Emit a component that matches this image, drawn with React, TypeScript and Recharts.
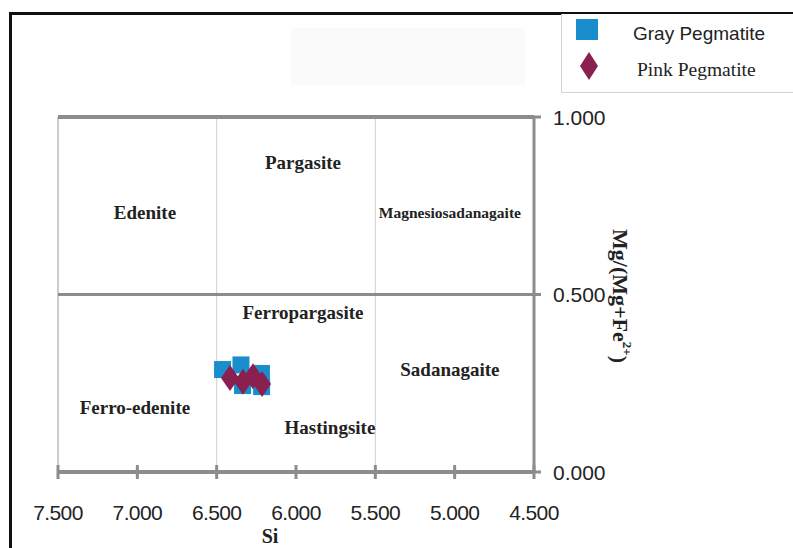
import { Label, Legend, ReferenceDot, ReferenceLine, Scatter, ScatterChart, XAxis, YAxis } from 'recharts';

const siTicks = [7.5, 7.0, 6.5, 6.0, 5.5, 5.0, 4.5];
const ratioTicks = [0, 0.5, 1.0];

const graySi = [6.466, 6.35, 6.221, 6.34, 6.22];
const grayRatio = [0.29, 0.303, 0.279, 0.245, 0.242];
const pinkSi = [6.416, 6.334, 6.271, 6.214];
const pinkRatio = [0.265, 0.254, 0.27, 0.248];

const regionNames = ['Pargasite', 'Edenite', 'Magnesiosadanagaite', 'Ferropargasite', 'Sadanagaite', 'Ferro-edenite', 'Hastingsite'];
const regionSi = [5.956, 6.952, 5.03, 5.956, 5.03, 7.015, 5.786];
const regionRatio = [0.873, 0.73, 0.73, 0.448, 0.29, 0.183, 0.124];

const gray = graySi.map((si, i) => ({ si, ratio: grayRatio[i] }));
const pink = pinkSi.map((si, i) => ({ si, ratio: pinkRatio[i] }));

const BLUE = '#1a8dcd';
const MAROON = '#8a2050';
const AXIS = '#8c8c8c';
const NUM_FONT = "'Liberation Sans', Arial, sans-serif";
const SERIF = "'Liberation Serif', 'DejaVu Serif', serif";

const Square = (p: any) => <rect x={p.cx - 8} y={p.cy - 8} width={17} height={17} fill={BLUE} />;
const Diamond = (p: any) => (
  <polygon points={`${p.cx},${p.cy - 13} ${p.cx + 9},${p.cy} ${p.cx},${p.cy + 13} ${p.cx - 9},${p.cy}`} fill={MAROON} />
);

const XTick = (p: any) => (
  <g>
    <line x1={p.x} x2={p.x} y1={p.y - 7} y2={p.y + 7} stroke={AXIS} strokeWidth={3} />
    <text x={p.x} y={p.y + 40} textAnchor="middle" dominantBaseline="central" fontSize={21} letterSpacing={-0.6} fontFamily={NUM_FONT} fill="#222">
      {p.payload.value.toFixed(3)}
    </text>
  </g>
);

const YTick = (p: any) => (
  <g>
    <line x1={p.x - 7} x2={p.x + 7} y1={p.y} y2={p.y} stroke={AXIS} strokeWidth={3} />
    <text x={p.x + 19} y={p.y} textAnchor="start" dominantBaseline="central" fontSize={21} fontFamily={NUM_FONT} fill="#222">
      {p.payload.value.toFixed(3)}
    </text>
  </g>
);

const LegendBox = () => (
  <div style={{ width: 240, height: 78, border: '1px solid #d4d4d4', borderTop: 'none', background: '#fff', position: 'relative' }}>
    <svg width={240} height={78} style={{ position: 'absolute', left: 0, top: 0 }}>
      <rect x={14} y={5} width={22} height={21} fill={BLUE} />
      <polygon points="27,38 36,52 27,66 18,52" fill={MAROON} />
      <text x={71} y={26} fontSize={19} fontFamily="'Liberation Sans', Arial, sans-serif" fill="#222">
        Gray Pegmatite
      </text>
      <text x={75} y={62} fontSize={19.5} fontFamily={SERIF} fill="#222">
        Pink Pegmatite
      </text>
    </svg>
  </div>
);

export default function App() {
  return (
    <div style={{ position: 'absolute', left: 0, top: 0, width: 793, height: 548, overflow: 'hidden', background: '#fff' }}>
      <div
        style={{
          position: 'absolute',
          left: 9,
          top: 12,
          width: 900,
          height: 700,
          borderLeft: '3px solid #111',
          borderTop: '3px solid #111',
        }}
      />
      <div style={{ position: 'absolute', left: 291, top: 28, width: 234, height: 57, background: '#fafafa' }} />
      <div style={{ position: 'absolute', left: 0, top: 0 }}>
        <ScatterChart width={793} height={548} margin={{ top: 117, right: 0, bottom: 0, left: 58 }}>
          <XAxis
            type="number"
            dataKey="si"
            domain={[4.5, 7.5]}
            reversed
            ticks={siTicks}
            interval={0}
            height={76}
            tickSize={0}
            tickMargin={0}
            tickLine={false}
            tick={<XTick />}
            axisLine={{ stroke: AXIS, strokeWidth: 4 }}
            allowDataOverflow
          >
            <Label
              content={(p: any) => (
                <text x={p.viewBox.x + 212} y={p.viewBox.y + 64} textAnchor="middle" dominantBaseline="central" fontSize={20} fontWeight="bold" fontFamily={SERIF} fill="#222">
                  Si
                </text>
              )}
            />
          </XAxis>
          <YAxis
            type="number"
            dataKey="ratio"
            orientation="right"
            domain={[0, 1]}
            ticks={ratioTicks}
            interval={0}
            width={259}
            tickSize={0}
            tickMargin={0}
            tickLine={false}
            tick={<YTick />}
            axisLine={{ stroke: AXIS, strokeWidth: 3 }}
            allowDataOverflow
          >
            <Label
              content={(p: any) => {
                const x = p.viewBox.x + 86;
                const y = p.viewBox.y + 112;
                return (
                  <text x={x} y={y} transform={`rotate(90 ${x} ${y})`} textAnchor="start" dominantBaseline="central" fontSize={22} fontWeight="bold" fontFamily={SERIF} fill="#222">
                    Mg/(Mg+Fe
                    <tspan baselineShift="super" fontSize={13}>2+</tspan>
                    <tspan>)</tspan>
                  </text>
                );
              }}
            />
          </YAxis>
          <ReferenceLine x={7.5} stroke="#bdbdbd" strokeWidth={1.5} />
          <ReferenceLine x={6.5} stroke="#cfcfcf" strokeWidth={1} />
          <ReferenceLine x={5.5} stroke="#cfcfcf" strokeWidth={1} />
          <ReferenceLine y={1} stroke={AXIS} strokeWidth={4} />
          <ReferenceLine y={0.5} stroke={AXIS} strokeWidth={3} />
          {regionNames.map((name, i) => (
            <ReferenceDot
              key={name}
              x={regionSi[i]}
              y={regionRatio[i]}
              ifOverflow="visible"
              shape={(p: any) => (
                <text x={p.cx} y={p.cy} textAnchor="middle" dominantBaseline="central" fontSize={name.length > 15 ? 15.5 : 19} fontWeight="bold" fontFamily={SERIF} fill="#222">
                  {name}
                </text>
              )}
            />
          ))}
          <Scatter name="Gray Pegmatite" data={gray} shape={<Square />} isAnimationActive={false} />
          <Scatter name="Pink Pegmatite" data={pink} shape={<Diamond />} isAnimationActive={false} />
          <Legend
            layout="horizontal"
            verticalAlign="middle"
            align="center"
            content={<LegendBox />}
            wrapperStyle={{ position: 'absolute', left: 561, top: 14, width: 240, height: 78 }}
          />
        </ScatterChart>
      </div>
    </div>
  );
}
